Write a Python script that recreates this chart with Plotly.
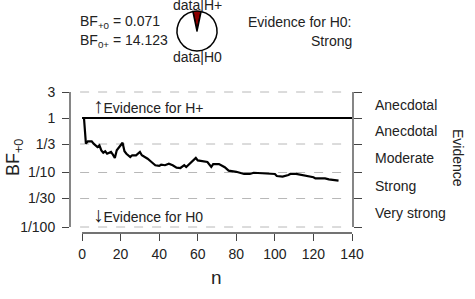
import numpy as np
import plotly.graph_objects as go

# ---- data ----
n_vals = [1, 2, 3, 5, 6, 8, 9, 10, 11, 12, 13, 15, 16, 17, 18, 21, 22, 23, 25, 26,
          28, 30, 31, 34, 36, 38, 40, 41, 43, 45, 47, 49, 51, 53, 54, 56, 59, 60, 62,
          65, 67, 68, 71, 74, 76, 80, 84, 87, 89, 93, 97, 100, 101, 104, 107, 108,
          111, 114, 117, 120, 121, 124, 126, 128, 131, 133]
bf_vals = [1.0, 0.338, 0.374, 0.374, 0.338, 0.294, 0.316, 0.255, 0.231, 0.245, 0.221,
           0.238, 0.212, 0.185, 0.255, 0.352, 0.245, 0.221, 0.192, 0.207, 0.207, 0.238,
           0.207, 0.179, 0.156, 0.136, 0.132, 0.139, 0.136, 0.145, 0.136, 0.123, 0.121,
           0.136, 0.126, 0.145, 0.185, 0.167, 0.161, 0.156, 0.127, 0.143, 0.143, 0.125,
           0.108, 0.103, 0.094, 0.094, 0.099, 0.097, 0.094, 0.094, 0.086, 0.084, 0.090,
           0.094, 0.094, 0.090, 0.084, 0.082, 0.078, 0.078, 0.078, 0.075, 0.073, 0.071]
bf10 = 0.071
bf01 = 14.123
y_tickvals = [3, 1, 1/3, 1/10, 1/30, 1/100]
y_ticktext = ["3", "1", "1/3", "1/10", "1/30", "1/100"]
x_tickvals = [0, 20, 40, 60, 80, 100, 120, 140]
evidence_labels = ["Anecdotal", "Anecdotal", "Moderate", "Strong", "Very strong"]

FONT = "Liberation Sans, Arial, sans-serif"
W, H = 475, 299
L, R, T, B = 70, 122, 0, 66
pw, ph = W - L - R, H - T - B  # 283, 233
plot_top_px = 85
ydom = [0, (ph - plot_top_px) / ph]
yrange = [-2.110, 0.6055]
xrange_ = [-6.25, 140.5]

def px_x(p):
    return (p - L) / pw

def px_y(p):
    return (ph - p) / ph

fig = go.Figure()

# dashed gridlines
for v in y_tickvals:
    if v == 1:
        continue
    fig.add_shape(type="line", xref="x", yref="y", x0=-1, x1=138, y0=v, y1=v,
                  line=dict(color="#b8b8b8", width=1, dash="dash"), layer="below")
# solid BF=1 line
fig.add_shape(type="line", xref="x", yref="y", x0=0, x1=140, y0=1, y1=1,
              line=dict(color="black", width=2))

fig.add_trace(go.Scatter(x=n_vals, y=bf_vals, mode="lines",
                         line=dict(color="black", width=2.2), showlegend=False,
                         hoverinfo="skip", xaxis="x", yaxis="y"))
# invisible trace for right axis
fig.add_trace(go.Scatter(x=[n_vals[0]], y=[bf_vals[0]], mode="markers", opacity=0,
                         showlegend=False, hoverinfo="skip", xaxis="x", yaxis="y2"))

# pie
fig.add_trace(go.Pie(values=[bf10, 1.0], sort=False, direction="clockwise",
                     rotation=-(bf10 / (1 + bf10)) * 180,
                     marker=dict(colors=["#8b0000", "white"], line=dict(color="black", width=1.5)),
                     textinfo="none", hoverinfo="skip", showlegend=False,
                     domain=dict(x=[px_x(177), px_x(217)], y=[px_y(51), px_y(11)])))

axcol = "#444444"
# axis lines (R-style)
fig.add_shape(type="line", xref="paper", yref="y", x0=0, x1=0, y0=3, y1=1/100,
              line=dict(color=axcol, width=1.3))
fig.add_shape(type="line", xref="paper", yref="y", x0=1, x1=1, y0=3, y1=1/100,
              line=dict(color=axcol, width=1.3))
fig.add_shape(type="line", xref="x", yref="paper", x0=0, x1=140, y0=0, y1=0,
              line=dict(color=axcol, width=1.3))

fig.update_layout(
    width=W, height=H, margin=dict(l=L, r=R, t=T, b=B),
    paper_bgcolor="white", plot_bgcolor="white",
    font=dict(family=FONT, size=14, color="#222"),
    xaxis=dict(range=xrange_, tickvals=x_tickvals, ticks="outside", ticklen=7,
               tickcolor=axcol, tickwidth=1.3, showgrid=False, zeroline=False,
               showline=False, ticklabelstandoff=1, tickfont=dict(size=14)),
    yaxis=dict(type="log", range=yrange, domain=ydom, tickvals=y_tickvals,
               ticktext=y_ticktext, ticks="outside", ticklen=7, tickcolor=axcol,
               tickwidth=1.3, showgrid=False, zeroline=False, showline=False,
               ticklabelstandoff=4, tickfont=dict(size=14)),
    yaxis2=dict(type="log", range=yrange, domain=ydom, overlaying="y", side="right",
                tickvals=y_tickvals, ticks="outside", ticklen=8, tickcolor=axcol,
                tickwidth=1.3, showticklabels=False, showgrid=False, zeroline=False,
                showline=False),
)

ann = []
def add(text, x, y, xanchor="center", yanchor="middle", size=14, xref="paper", yref="paper", angle=0):
    ann.append(dict(text=text, xref=xref, yref=yref, x=x, y=y, xanchor=xanchor,
                    yanchor=yanchor, textangle=angle, showarrow=False,
                    font=dict(size=size, color="#222")))

# evidence labels between ticks
for i, lab in enumerate(evidence_labels):
    mid = (np.log10(y_tickvals[i]) + np.log10(y_tickvals[i + 1])) / 2
    add(lab, px_x(373), mid, xanchor="left", yref="y")
add("Evidence", px_x(458), px_y(158), angle=90)
add("BF<sub>+0</sub>", px_x(15), px_y(158), size=18, angle=-90)
add("n", px_x(216), px_y(277), size=19)
arrow_up = '<span style="font-size:21px">\u2191</span>Evidence for H+'
arrow_dn = '<span style="font-size:21px">\u2193</span>Evidence for H0'
add(arrow_up, px_x(91), px_y(105), xanchor="left")
add(arrow_dn, px_x(91), px_y(214), xanchor="left")
add("BF<sub>+0</sub> = %.3f" % bf10, px_x(78), px_y(22), xanchor="left")
add("BF<sub>0+</sub> = %.3f" % bf01, px_x(78), px_y(41), xanchor="left")
add("data|H+", px_x(197), px_y(5))
add("data|H0", px_x(197), px_y(57))
add("Evidence for H0:", px_x(354), px_y(22), xanchor="right")
add("Strong", px_x(354), px_y(41), xanchor="right")
fig.update_layout(annotations=ann)

fig.write_html("out.html")
